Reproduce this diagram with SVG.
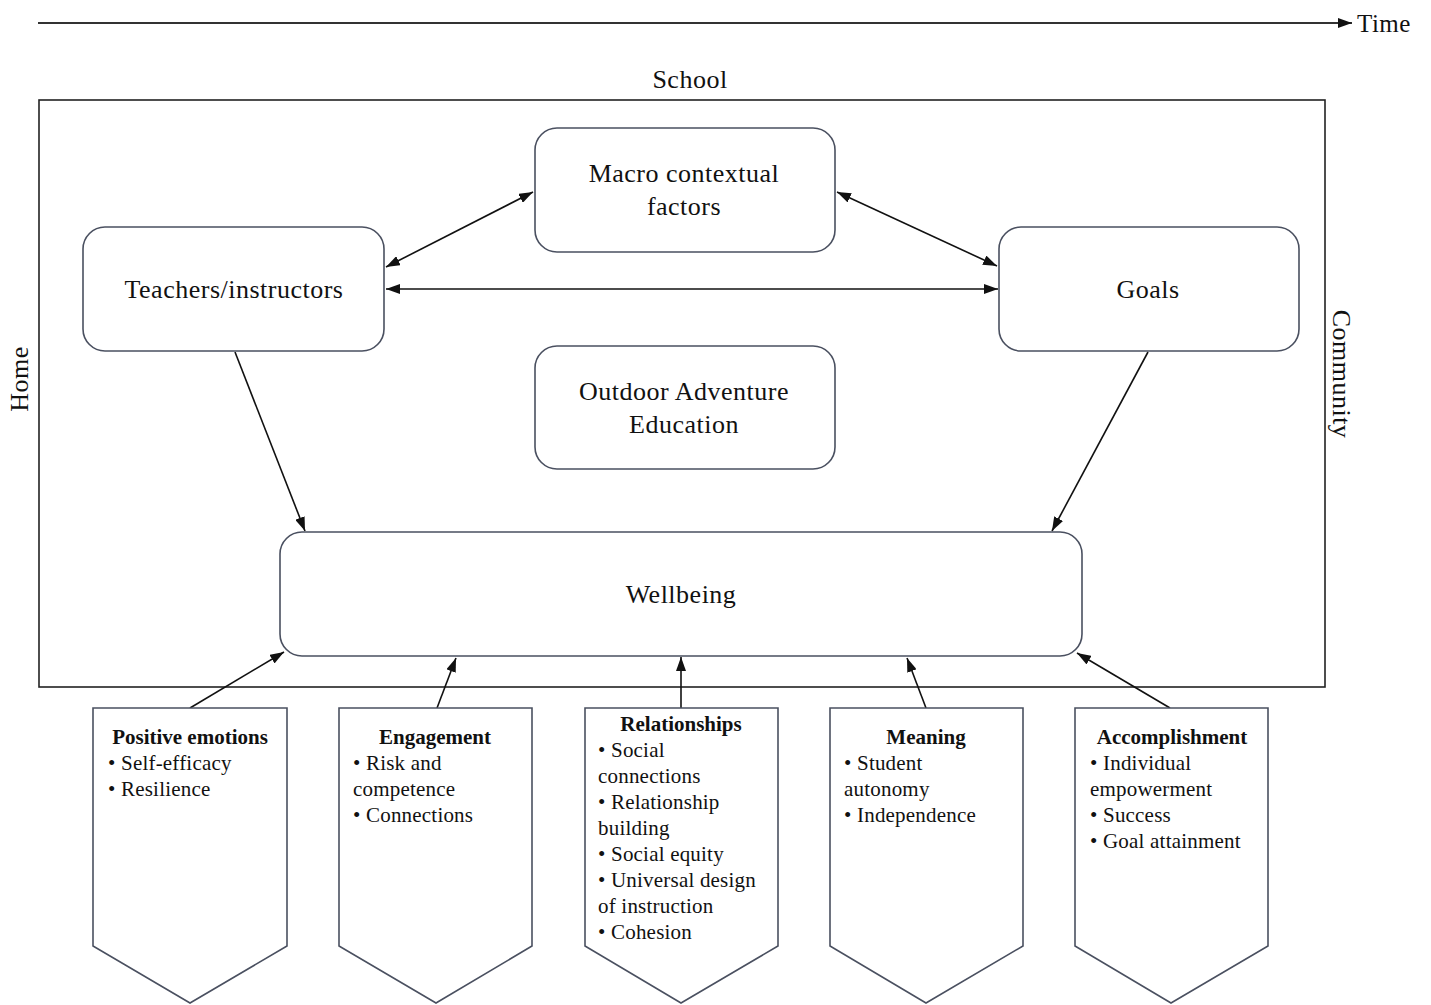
<svg xmlns="http://www.w3.org/2000/svg" width="1431" height="1005" viewBox="0 0 1431 1005">
<style>
text{font-family:"Liberation Serif","Times New Roman",serif;fill:#111}
.lbl{font-size:26px;letter-spacing:0.5px}
.nd{fill:#fff;stroke:#4a5060;stroke-width:1.6}
.pt{fill:#fff;stroke:#4a5060;stroke-width:1.6}
.sm{font-size:21px;letter-spacing:0.2px}
.b{font-weight:bold;letter-spacing:0}
.c{stroke:#111;stroke-width:1.6;fill:none}
</style>
<defs>
<marker id="ah" viewBox="0 0 14 10" refX="14" refY="5" markerWidth="14" markerHeight="10" markerUnits="userSpaceOnUse" orient="auto-start-reverse">
<path d="M0,0 L14,5 L0,10 Z" fill="#111"/>
</marker>
</defs>
<rect width="1431" height="1005" fill="#fff"/>

<g id="time">
<line x1="38" y1="23" x2="1352" y2="23" stroke="#333" stroke-width="2" marker-end="url(#ah)"/>
<text x="1357" y="32" class="lbl" style="font-size:25px">Time</text>
</g>

<g id="context">
<rect x="39" y="100" width="1286" height="587" fill="none" stroke="#222" stroke-width="1.6"/>
<text x="690" y="88" class="lbl" text-anchor="middle">School</text>
<text transform="translate(28,379) rotate(-90)" class="lbl" text-anchor="middle">Home</text>
<text transform="translate(1333,374) rotate(90)" class="lbl" text-anchor="middle">Community</text>
</g>

<g id="connectors">
<line class="c" x1="533" y1="192" x2="386" y2="267" marker-start="url(#ah)" marker-end="url(#ah)"/>
<line class="c" x1="837" y1="192" x2="997" y2="266" marker-start="url(#ah)" marker-end="url(#ah)"/>
<line class="c" x1="386" y1="289" x2="998" y2="289" marker-start="url(#ah)" marker-end="url(#ah)"/>
<line class="c" x1="235" y1="352" x2="305" y2="531" marker-end="url(#ah)"/>
<line class="c" x1="1148" y1="352" x2="1052" y2="531" marker-end="url(#ah)"/>
<line class="c" x1="190" y1="708" x2="284" y2="652" marker-end="url(#ah)"/>
<line class="c" x1="437" y1="708" x2="456" y2="658" marker-end="url(#ah)"/>
<line class="c" x1="681" y1="708" x2="681" y2="657" marker-end="url(#ah)"/>
<line class="c" x1="926" y1="708" x2="907" y2="658" marker-end="url(#ah)"/>
<line class="c" x1="1170" y1="708" x2="1077" y2="653" marker-end="url(#ah)"/>
</g>

<g id="macro">
<rect class="nd" x="535" y="128" width="300" height="124" rx="22"/>
<text x="684" y="182" class="lbl" text-anchor="middle">Macro contextual</text>
<text x="684" y="215" class="lbl" text-anchor="middle">factors</text>
</g>
<g id="teachers">
<rect class="nd" x="83" y="227" width="301" height="124" rx="22"/>
<text x="234" y="298" class="lbl" text-anchor="middle">Teachers/instructors</text>
</g>
<g id="goals">
<rect class="nd" x="999" y="227" width="300" height="124" rx="22"/>
<text x="1148" y="298" class="lbl" text-anchor="middle">Goals</text>
</g>
<g id="oae">
<rect class="nd" x="535" y="346" width="300" height="123" rx="22"/>
<text x="684" y="400" class="lbl" text-anchor="middle">Outdoor Adventure</text>
<text x="684" y="433" class="lbl" text-anchor="middle">Education</text>
</g>
<g id="wellbeing">
<rect class="nd" x="280" y="532" width="802" height="124" rx="22"/>
<text x="681" y="603" class="lbl" text-anchor="middle">Wellbeing</text>
</g>

<g id="positive-emotions">
<path class="pt" d="M93,708 H287 V946 L190,1003 L93,946 Z"/>
<text x="190" y="744" class="sm b" text-anchor="middle">Positive emotions</text>
<text x="108" y="770" class="sm">• Self-efficacy</text>
<text x="108" y="796" class="sm">• Resilience</text>
</g>
<g id="engagement">
<path class="pt" d="M339,708 H532 V946 L436,1003 L339,946 Z"/>
<text x="435" y="744" class="sm b" text-anchor="middle">Engagement</text>
<text x="353" y="770" class="sm">• Risk and</text>
<text x="353" y="796" class="sm">competence</text>
<text x="353" y="822" class="sm">• Connections</text>
</g>
<g id="relationships">
<path class="pt" d="M585,708 H778 V946 L681,1003 L585,946 Z"/>
<text x="681" y="731" class="sm b" text-anchor="middle">Relationships</text>
<text x="598" y="757" class="sm">• Social</text>
<text x="598" y="783" class="sm">connections</text>
<text x="598" y="809" class="sm">• Relationship</text>
<text x="598" y="835" class="sm">building</text>
<text x="598" y="861" class="sm">• Social equity</text>
<text x="598" y="887" class="sm">• Universal design</text>
<text x="598" y="913" class="sm">of instruction</text>
<text x="598" y="939" class="sm">• Cohesion</text>
</g>
<g id="meaning">
<path class="pt" d="M830,708 H1023 V946 L926,1003 L830,946 Z"/>
<text x="926" y="744" class="sm b" text-anchor="middle">Meaning</text>
<text x="844" y="770" class="sm">• Student</text>
<text x="844" y="796" class="sm">autonomy</text>
<text x="844" y="822" class="sm">• Independence</text>
</g>
<g id="accomplishment">
<path class="pt" d="M1075,708 H1268 V946 L1171,1003 L1075,946 Z"/>
<text x="1172" y="744" class="sm b" text-anchor="middle">Accomplishment</text>
<text x="1090" y="770" class="sm">• Individual</text>
<text x="1090" y="796" class="sm">empowerment</text>
<text x="1090" y="822" class="sm">• Success</text>
<text x="1090" y="848" class="sm">• Goal attainment</text>
</g>
</svg>
